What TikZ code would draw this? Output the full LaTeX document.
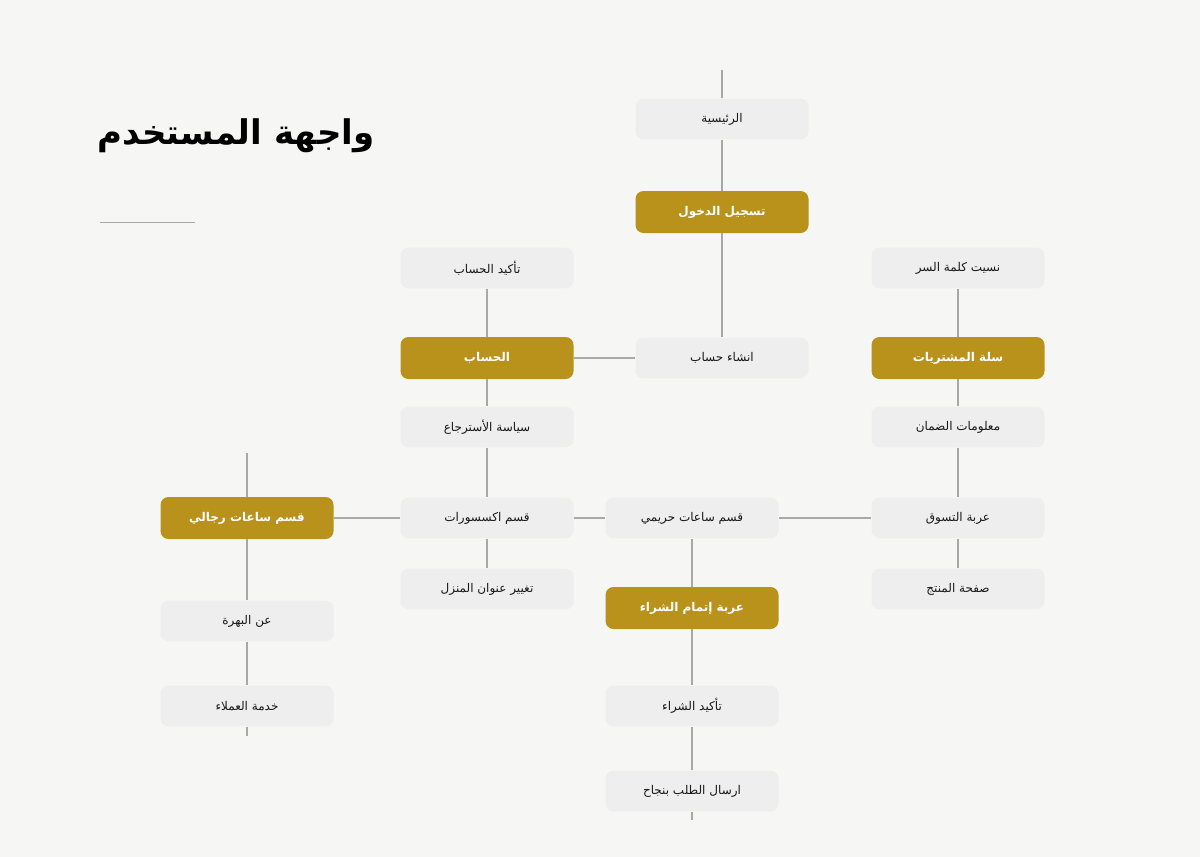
\documentclass[tikz,border=0pt]{standalone}
\usepackage{fontspec}
\newfontfamily\arabicfont[Script=Arabic]{DejaVu Sans}
\TeXXeTstate=1
\definecolor{bg}{HTML}{F6F6F5}
\definecolor{boxgray}{HTML}{EEEEEE}
\definecolor{gold}{HTML}{B9921B}
\definecolor{linegray}{HTML}{A8A8A8}
\newcommand{\artext}[1]{\beginR #1\endR}

\begin{document}
\begin{tikzpicture}[x=0.75pt,y=-0.75pt]
        \tikzstyle{pagebox}=[rectangle, rounded corners=6pt, fill=boxgray, minimum width=129.75pt, minimum height=30.5pt, inner sep=0pt, text=black!90, font=\arabicfont\fontsize{9}{11}\selectfont]
        \tikzstyle{mainbox}=[pagebox, fill=gold, minimum height=31.5pt, text=white, font=\arabicfont\bfseries\fontsize{9}{11}\selectfont]
        \tikzstyle{link}=[linegray, line width=0.9pt]
        \fill[bg] (0,0) rectangle (1200,857);
        \node[font=\arabicfont\bfseries\fontsize{25.5}{30}\selectfont] (title) at (236,136) {\artext{واجهة المستخدم}};
        \draw[linegray, line width=0.75pt] (100,222) -- (195,222);
        \node[pagebox] (home) at (722,119) {\artext{الرئيسية}};
        \node[mainbox] (login) at (722,212) {\artext{تسجيل الدخول}};
        \node[pagebox] (signup) at (722,358) {\artext{انشاء حساب}};
        \node[pagebox] (confirm) at (487,268) {\artext{تأكيد الحساب}};
        \node[mainbox] (account) at (487,358) {\artext{الحساب}};
        \node[pagebox] (refund) at (487,427) {\artext{سياسة الأسترجاع}};
        \node[pagebox] (accessories) at (487,518) {\artext{قسم اكسسورات}};
        \node[pagebox] (address) at (487,589) {\artext{تغيير عنوان المنزل}};
        \node[pagebox] (women) at (692,518) {\artext{قسم ساعات حريمي}};
        \node[mainbox] (checkout) at (692,608) {\artext{عربة إتمام الشراء}};
        \node[pagebox] (confirmbuy) at (692,706) {\artext{تأكيد الشراء}};
        \node[pagebox] (sent) at (692,791) {\artext{ارسال الطلب بنجاح}};
        \node[pagebox] (forgot) at (958,268) {\artext{نسيت كلمة السر}};
        \node[mainbox] (basket) at (958,358) {\artext{سلة المشتريات}};
        \node[pagebox] (warranty) at (958,427) {\artext{معلومات الضمان}};
        \node[pagebox] (cart) at (958,518) {\artext{عربة التسوق}};
        \node[pagebox] (product) at (958,589) {\artext{صفحة المنتج}};
        \node[mainbox] (men) at (247,518) {\artext{قسم ساعات رجالي}};
        \node[pagebox] (about) at (247,621) {\artext{عن البهرة}};
        \node[pagebox] (service) at (247,706) {\artext{خدمة العملاء}};
        \coordinate (hometop) at (722,70);
        \coordinate (mentop) at (247,453);
        \coordinate (serviceend) at (247,736);
        \coordinate (sentend) at (692,820);
        \foreach \a/\b in {hometop/home, home/login, login/signup, account/signup, confirm/account, account/refund, refund/accessories, accessories/address, men/accessories, accessories/women, women/cart, women/checkout, checkout/confirmbuy, confirmbuy/sent, sent/sentend, forgot/basket, basket/warranty, warranty/cart, cart/product, mentop/men, men/about, about/service, service/serviceend}
            \draw[link] (\a) -- (\b);
      \end{tikzpicture}
\end{document}
